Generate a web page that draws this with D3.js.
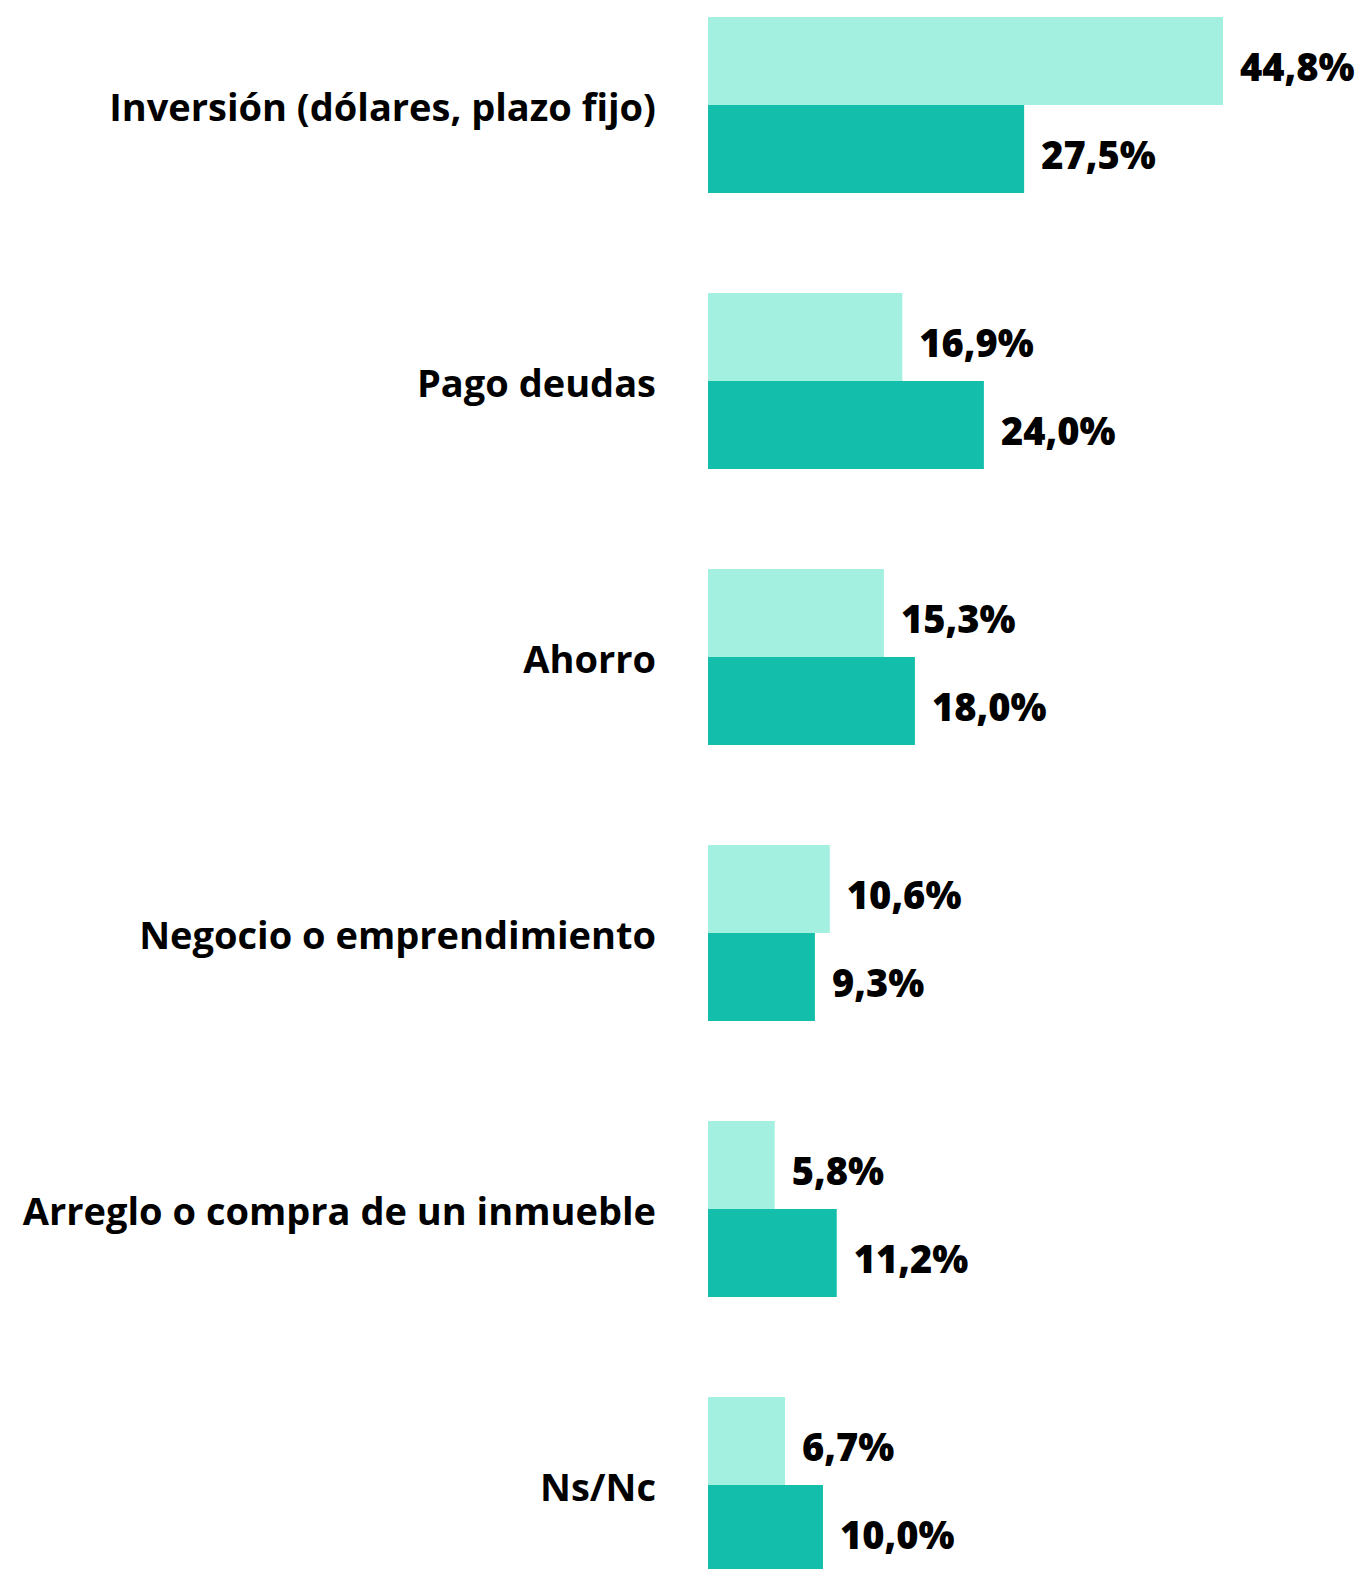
<!DOCTYPE html>
<html>
<head>
<meta charset="utf-8">
<script src="https://cdn.jsdelivr.net/npm/d3@7"></script>
<style>
  body { margin: 0; background: #fff; overflow: hidden; }
  text { font-family: "Open Sans", "Noto Sans", sans-serif; font-weight: 700; fill: #000; }
</style>
</head>
<body>
<svg id="chart" width="1363" height="1569"></svg>
<script>
const categories = [
  "Inversión (dólares, plazo fijo)",
  "Pago deudas",
  "Ahorro",
  "Negocio o emprendimiento",
  "Arreglo o compra de un inmueble",
  "Ns/Nc"
];
const seriesA = [44.8, 16.9, 15.3, 10.6, 5.8, 6.7];
const seriesB = [27.5, 24.0, 18.0, 9.3, 11.2, 10.0];
const colors = ["#a3f0e1", "#13bfab"];

const svg = d3.select("#chart");
const left = 708;

const x = d3.scaleLinear().domain([0, 44.8]).range([left, 1223]);
const y = d3.scaleBand().domain(categories).range([17, 1573]).paddingInner(100 / 276).paddingOuter(0);
const fmt = v => d3.format(".1f")(v).replace(".", ",") + "%";

const rows = svg.append("g").selectAll("g.row").data(categories).join("g")
  .attr("class", "row")
  .attr("transform", d => `translate(0,${y(d)})`);

const bh = y.bandwidth() / 2;

[seriesA, seriesB].forEach((s, si) => {
  rows.append("rect")
    .attr("x", left)
    .attr("y", si * bh)
    .attr("width", (d, i) => x(s[i]) - left)
    .attr("height", bh)
    .attr("fill", colors[si]);
  rows.append("text")
    .attr("x", (d, i) => x(s[i]) + 17)
    .attr("y", si * bh + bh / 2 + 10)
    .attr("dominant-baseline", "middle")
    .style("font-size", "38px")
    .style("font-weight", 800)
    .text((d, i) => fmt(s[i]));
});

rows.append("text")
  .attr("x", 656)
  .attr("y", bh + 6)
  .attr("text-anchor", "end")
  .attr("dominant-baseline", "middle")
  .style("font-size", "38px")
  .text(d => d);
</script>
</body>
</html>
